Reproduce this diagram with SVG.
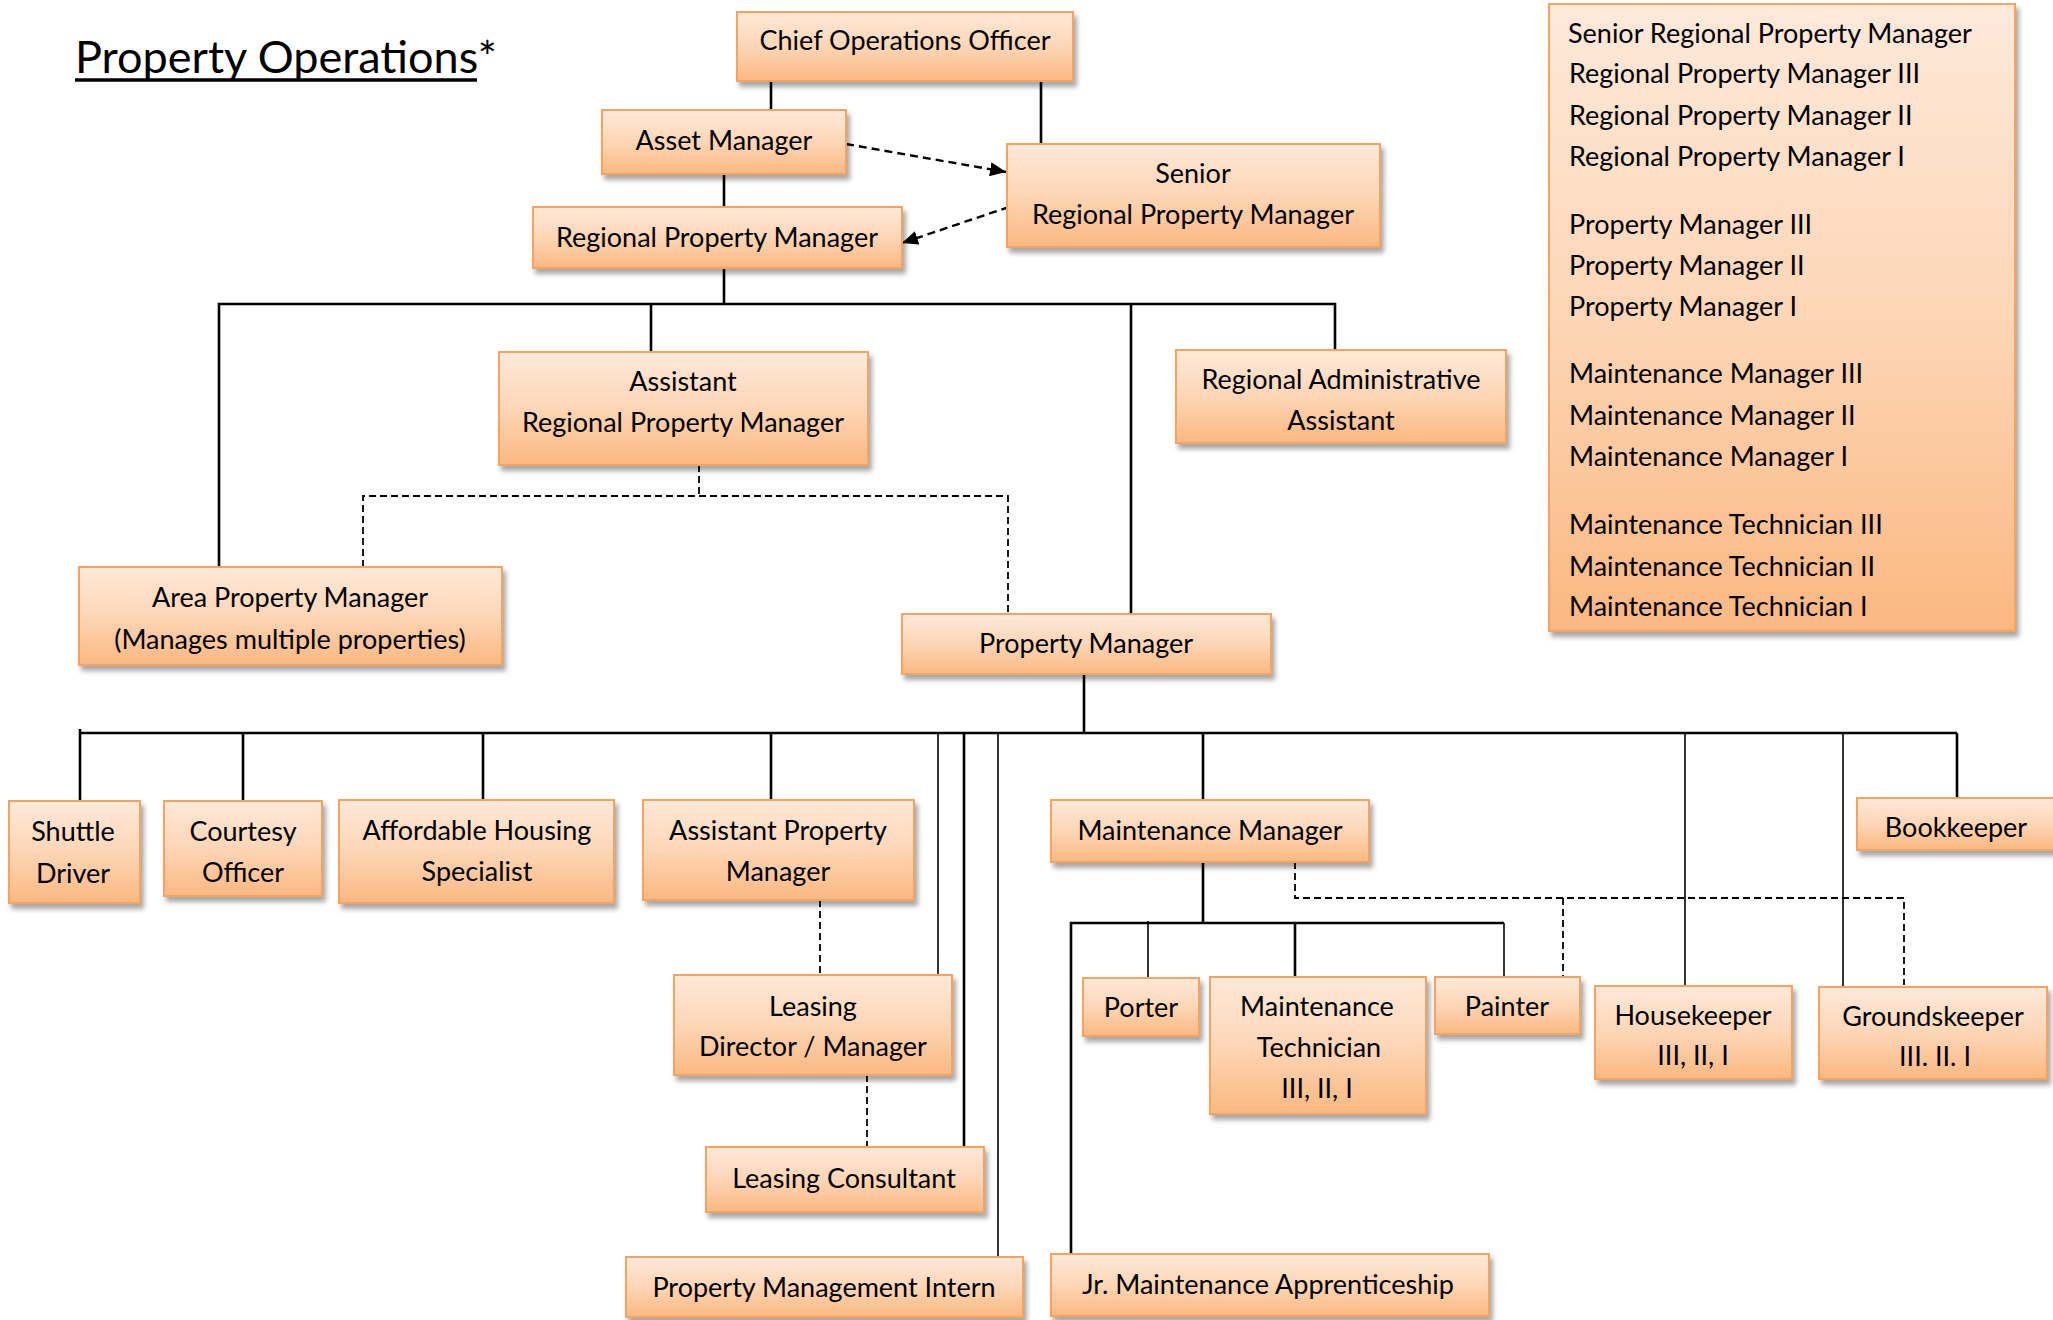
<svg xmlns="http://www.w3.org/2000/svg" width="2053" height="1320" viewBox="0 0 2053 1320">
<style>
.box{fill:url(#g);stroke:#f5a35f;stroke-width:2;filter:url(#sh)}
.t{font-family:Lato,"Open Sans",sans-serif;font-size:27px;fill:#000;text-anchor:middle}
.l{font-family:Lato,"Open Sans",sans-serif;font-size:27px;fill:#000}
.c{stroke:#000;stroke-width:2.6;fill:none}
.n{stroke:#000;stroke-width:1.6;fill:none}
.d{stroke:#000;stroke-width:1.8;fill:none;stroke-dasharray:7 4}
.a{stroke:#000;stroke-width:2.4;fill:none;stroke-dasharray:8 5}
</style>
<defs>
<linearGradient id="g" x1="0" y1="0" x2="0" y2="1">
<stop offset="0" stop-color="#fee9da"/>
<stop offset="0.5" stop-color="#fdd6b6"/>
<stop offset="1" stop-color="#fbb881"/>
</linearGradient>
<filter id="sh" x="-10%" y="-10%" width="130%" height="140%">
<feDropShadow dx="3" dy="5" stdDeviation="2.5" flood-color="#000" flood-opacity="0.35"/>
</filter>
<marker id="ar" viewBox="0 0 16 14" refX="16" refY="7" markerWidth="16" markerHeight="14" markerUnits="userSpaceOnUse" orient="auto">
<path d="M0,0 L16,7 L0,14 z" fill="#000"/>
</marker>
</defs>
<rect width="2053" height="1320" fill="#fff"/>
<g id="title">
<text x="75" y="73" font-family="Lato,'Open Sans',sans-serif" font-size="45" fill="#000">Property Operations*</text>
<line x1="75" y1="80" x2="477" y2="80" stroke="#000" stroke-width="3.5"/>
</g>
<g id="connectors">
<line class="c" x1="771" y1="81" x2="771" y2="110"/>
<line class="c" x1="1041" y1="81" x2="1041" y2="144"/>
<line class="c" x1="724" y1="174" x2="724" y2="207"/>
<line class="a" x1="846" y1="144" x2="1006" y2="172" marker-end="url(#ar)"/>
<line class="a" x1="1009" y1="207" x2="902" y2="243" marker-end="url(#ar)"/>
<line class="c" x1="724" y1="268" x2="724" y2="304"/>
<polyline class="c" points="219,567 219,304 1335,304 1335,350"/>
<line class="c" x1="651" y1="304" x2="651" y2="352"/>
<line class="c" x1="1131" y1="304" x2="1131" y2="614"/>
<line class="d" x1="699" y1="465" x2="699" y2="496"/>
<polyline class="d" points="363,567 363,496 1008,496 1008,612"/>
<line class="c" x1="1084" y1="674" x2="1084" y2="733"/>
<line class="c" x1="80" y1="733" x2="1957" y2="733"/>
<line class="c" x1="80" y1="729" x2="80" y2="801"/>
<line class="c" x1="243" y1="733" x2="243" y2="801"/>
<line class="c" x1="483" y1="733" x2="483" y2="800"/>
<line class="c" x1="771" y1="733" x2="771" y2="800"/>
<line class="n" x1="938" y1="733" x2="938" y2="975"/>
<line class="c" x1="964" y1="733" x2="964" y2="1147"/>
<line class="n" x1="998" y1="733" x2="998" y2="1257"/>
<line class="c" x1="1203" y1="733" x2="1203" y2="800"/>
<line class="n" x1="1685" y1="733" x2="1685" y2="986"/>
<line class="n" x1="1843" y1="733" x2="1843" y2="987"/>
<line class="c" x1="1957" y1="733" x2="1957" y2="797"/>
<line class="d" x1="820" y1="900" x2="820" y2="975"/>
<line class="d" x1="867" y1="1075" x2="867" y2="1147"/>
<line class="c" x1="1203" y1="862" x2="1203" y2="923"/>
<polyline class="c" points="1071,1254 1071,923 1504,923"/>
<line class="n" x1="1504" y1="923" x2="1504" y2="977"/>
<line class="n" x1="1148" y1="921" x2="1148" y2="978"/>
<line class="c" x1="1295" y1="923" x2="1295" y2="977"/>
<polyline class="d" points="1295,862 1295,898 1904,898 1904,985"/>
<line class="d" x1="1563" y1="898" x2="1563" y2="976"/>
</g>
<g id="coo"><rect class="box" x="737" y="12" width="336" height="69"/><text class="t" x="905" y="50">Chief Operations Officer</text></g>
<g id="asset-manager"><rect class="box" x="602" y="110" width="244" height="64"/><text class="t" x="724" y="150">Asset Manager</text></g>
<g id="senior-rpm"><rect class="box" x="1007" y="144" width="373" height="103"/><text class="t" x="1193" y="183">Senior</text><text class="t" x="1193" y="224">Regional Property Manager</text></g>
<g id="rpm"><rect class="box" x="533" y="207" width="369" height="61"/><text class="t" x="717" y="247">Regional Property Manager</text></g>
<g id="arpm"><rect class="box" x="499" y="352" width="369" height="113"/><text class="t" x="683" y="391">Assistant</text><text class="t" x="683" y="432">Regional Property Manager</text></g>
<g id="raa"><rect class="box" x="1176" y="350" width="330" height="93"/><text class="t" x="1341" y="389">Regional Administrative</text><text class="t" x="1341" y="430">Assistant</text></g>
<g id="area-pm"><rect class="box" x="79" y="567" width="423" height="98"/><text class="t" x="290" y="607">Area Property Manager</text><text class="t" x="290" y="649">(Manages multiple properties)</text></g>
<g id="pm"><rect class="box" x="902" y="614" width="369" height="60"/><text class="t" x="1086" y="653">Property Manager</text></g>
<g id="shuttle"><rect class="box" x="9" y="801" width="131" height="102"/><text class="t" x="73" y="841">Shuttle</text><text class="t" x="73" y="883">Driver</text></g>
<g id="courtesy"><rect class="box" x="164" y="801" width="158" height="95"/><text class="t" x="243" y="841">Courtesy</text><text class="t" x="243" y="882">Officer</text></g>
<g id="ahs"><rect class="box" x="339" y="800" width="275" height="103"/><text class="t" x="477" y="840">Affordable Housing</text><text class="t" x="477" y="881">Specialist</text></g>
<g id="apm"><rect class="box" x="643" y="800" width="271" height="100"/><text class="t" x="778" y="840">Assistant Property</text><text class="t" x="778" y="881">Manager</text></g>
<g id="leasing-director"><rect class="box" x="674" y="975" width="278" height="100"/><text class="t" x="813" y="1016">Leasing</text><text class="t" x="813" y="1056">Director / Manager</text></g>
<g id="leasing-consultant"><rect class="box" x="706" y="1147" width="278" height="65"/><text class="t" x="844" y="1188">Leasing Consultant</text></g>
<g id="pm-intern"><rect class="box" x="626" y="1257" width="397" height="60"/><text class="t" x="824" y="1297">Property Management Intern</text></g>
<g id="maint-manager"><rect class="box" x="1051" y="800" width="318" height="62"/><text class="t" x="1210" y="840">Maintenance Manager</text></g>
<g id="porter"><rect class="box" x="1083" y="978" width="116" height="58"/><text class="t" x="1141" y="1017">Porter</text></g>
<g id="maint-tech"><rect class="box" x="1210" y="977" width="216" height="137"/><text class="t" x="1317" y="1016">Maintenance</text><text class="t" x="1319" y="1057">Technician</text><text class="t" x="1317" y="1098">III, II, I</text></g>
<g id="painter"><rect class="box" x="1435" y="977" width="145" height="57"/><text class="t" x="1507" y="1016">Painter</text></g>
<g id="housekeeper"><rect class="box" x="1595" y="986" width="197" height="93"/><text class="t" x="1693" y="1025">Housekeeper</text><text class="t" x="1693" y="1065">III, II, I</text></g>
<g id="groundskeeper"><rect class="box" x="1819" y="987" width="228" height="92"/><text class="t" x="1933" y="1026">Groundskeeper</text><text class="t" x="1935" y="1066">III. II. I</text></g>
<g id="bookkeeper"><rect class="box" x="1857" y="798" width="215" height="52"/><text class="t" x="1956" y="837">Bookkeeper</text></g>
<g id="jr-maint"><rect class="box" x="1051" y="1254" width="438" height="62"/><text class="t" x="1268" y="1294">Jr. Maintenance Apprenticeship</text></g>
<g id="legend"><rect class="box" x="1549" y="4" width="466" height="627"/>
<text class="l" x="1568" y="43">Senior Regional Property Manager</text>
<text class="l" x="1569" y="83">Regional Property Manager III</text>
<text class="l" x="1569" y="125">Regional Property Manager II</text>
<text class="l" x="1569" y="166">Regional Property Manager I</text>
<text class="l" x="1569" y="234">Property Manager III</text>
<text class="l" x="1569" y="275">Property Manager II</text>
<text class="l" x="1569" y="316">Property Manager I</text>
<text class="l" x="1569" y="383">Maintenance Manager III</text>
<text class="l" x="1569" y="425">Maintenance Manager II</text>
<text class="l" x="1569" y="466">Maintenance Manager I</text>
<text class="l" x="1569" y="534">Maintenance Technician III</text>
<text class="l" x="1569" y="576">Maintenance Technician II</text>
<text class="l" x="1569" y="616">Maintenance Technician I</text>
</g>
</svg>
